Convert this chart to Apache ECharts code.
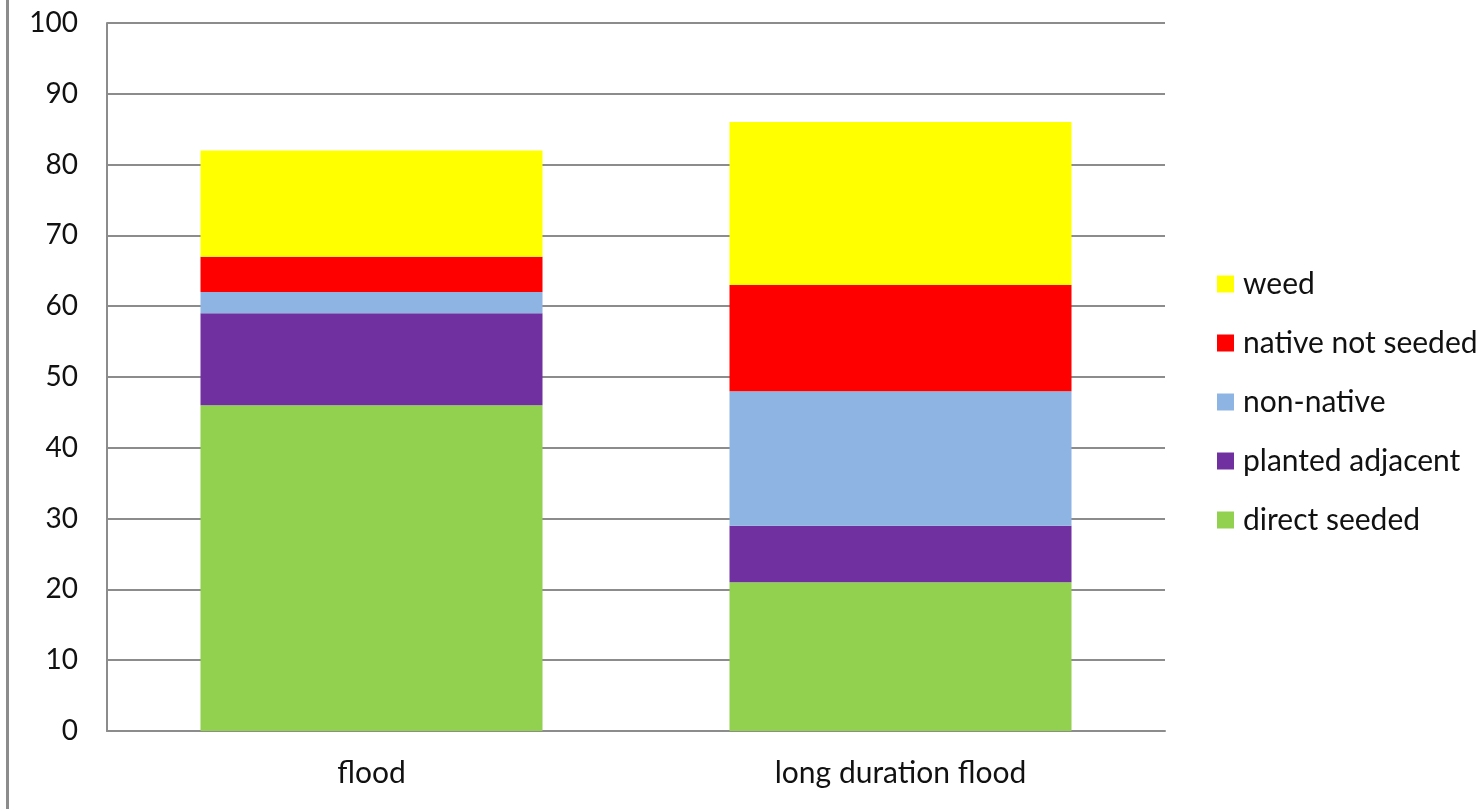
<!DOCTYPE html>
<html>
<head>
<meta charset="utf-8">
<script src="https://cdn.jsdelivr.net/npm/echarts@6/dist/echarts.min.js"></script>
<style>
  html, body { margin: 0; padding: 0; background: #fff; }
  #chart { width: 1484px; height: 809px; }
</style>
</head>
<body>
<div id="chart"></div>
<script>
// Categories along the x axis
const categories = ['flood', 'long duration flood'];

// Stacked cover values (bottom to top)
const directSeeded = [46, 21];
const plantedAdjacent = [13, 8];
const nonNative = [3, 19];
const nativeNotSeeded = [5, 15];
const weed = [15, 23];

const seriesNames = ['direct seeded', 'planted adjacent', 'non-native', 'native not seeded', 'weed'];
const seriesValues = [directSeeded, plantedAdjacent, nonNative, nativeNotSeeded, weed];
const seriesColors = ['#92D050', '#7030A0', '#8DB4E2', '#FF0000', '#FFFF00'];

const font = 'Lato, "Open Sans", sans-serif';
const chart = echarts.init(document.getElementById('chart'));

chart.setOption({
  animation: false,
  grid: { left: 107, right: 319, top: 23, bottom: 78 },
  legend: {
    orient: 'vertical',
    left: 1212,
    top: 264,
    itemWidth: 17,
    itemHeight: 17,
    itemGap: 29,
    icon: 'rect',
    data: seriesNames.slice().reverse(),
    textStyle: { fontFamily: font, fontSize: 30, color: '#111', padding: [0, 0, 0, 4] }
  },
  xAxis: {
    type: 'category',
    data: categories,
    axisLine: { lineStyle: { color: '#8c8c8c', width: 2 } },
    axisTick: { show: false },
    axisLabel: { fontFamily: font, fontSize: 30, color: '#111', margin: 27 }
  },
  yAxis: {
    type: 'value',
    min: 0,
    max: 100,
    interval: 10,
    axisLine: { show: true, lineStyle: { color: '#8c8c8c', width: 2 } },
    axisTick: { show: false },
    splitLine: { lineStyle: { color: '#8c8c8c', width: 2 } },
    axisLabel: { fontFamily: font, fontSize: 28, color: '#111', margin: 29 }
  },
  series: seriesNames.map((name, i) => ({
    name: name,
    type: 'bar',
    stack: 'total',
    data: seriesValues[i],
    barWidth: 342,
    itemStyle: { color: seriesColors[i] }
  })),
  graphic: [{
    type: 'rect',
    shape: { x: 6, y: 0, width: 3, height: 809 },
    style: { fill: '#8c8c8c' },
    silent: true
  }]
});
</script>
</body>
</html>
